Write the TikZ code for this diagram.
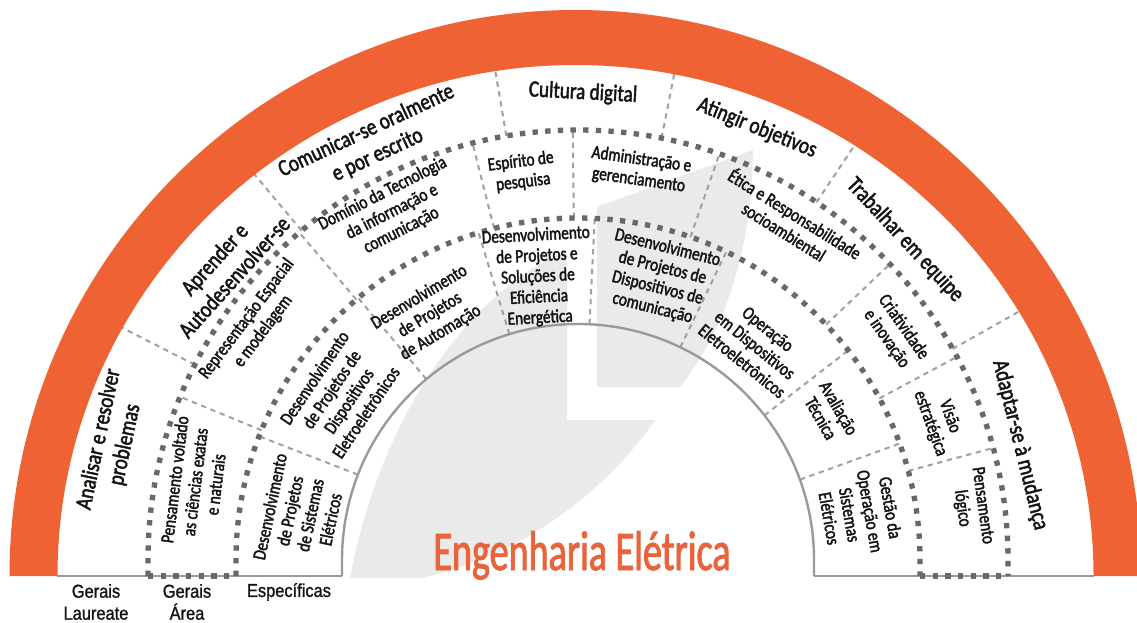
\documentclass[tikz,border=0pt]{standalone}
\usepackage{fontspec}
\setmainfont{Carlito}[FakeStretch=0.82,FakeBold=2]
\newfontfamily\labfont{Liberation Sans}[FakeStretch=0.88,FakeBold=1.2]
\newfontfamily\titfont{Carlito}[FakeStretch=0.68,FakeBold=1.6]
\definecolor{orng}{HTML}{EE6234}
\definecolor{titc}{HTML}{E8643C}
\definecolor{dgray}{HTML}{A0A0A0}
\definecolor{tdot}{HTML}{686868}
\definecolor{agray}{HTML}{9A9A9A}
\definecolor{logoc}{HTML}{EAEAEA}
\definecolor{txtc}{HTML}{141414}
\newcommand\rseg[3]{\draw[thindash] ([shift={(#1:#2)}]C) -- ([shift={(#1:#3)}]C);}
\begin{document}
\begin{tikzpicture}[x=0.75pt,y=0.75pt,
 thindash/.style={draw=dgray, line width=1.5pt, dash pattern=on 4pt off 3.5pt},
 thickdot/.style={draw=tdot, line width=4pt, dash pattern=on 4pt off 5.5pt},
 arcline/.style={draw=agray, line width=1.8pt},
 baseln/.style={draw=agray, line width=1.6pt},
 txt/.style={text=txtc, align=center, inner sep=0pt},
 outt/.style={txt, font=\fontsize{17.5}{20}\selectfont},
 midt/.style={txt, font=\fontsize{14}{15.5}\selectfont},
 labt/.style={txt, font=\labfont\fontsize{14}{16.5}\selectfont},
]
\useasboundingbox (0,0) rectangle (1137,-623);
\clip (0,0) rectangle (1137,-623);
\fill[white] (0,0) rectangle (1137,-623);
\coordinate (C) at (578,-560);
\coordinate (O) at (575.5,-576);

% background logo
\fill[logoc] (567,-250) -- (567,-420) -- (655,-420)
  .. controls (600,-500) and (510,-560) .. (420,-578) -- (350,-578)
  .. controls (380,-420) and (465,-295) .. (567,-250) -- cycle;
\fill[logoc] (597,-207) -- (753,-150)
  .. controls (752,-250) and (725,-330) .. (680,-387) -- (597,-387) -- cycle;

% radial dividers, outer ring
\rseg{153}{430}{535}
\rseg{130}{430}{535}
\rseg{99.6}{430}{535}
\rseg{78.8}{430}{535}
\rseg{56.3}{430}{535}
\rseg{29.4}{430}{535}
% middle ring
\rseg{157.7}{342}{430}
\rseg{130.4}{342}{430}
\rseg{104.2}{342}{430}
\rseg{90.7}{342}{430}
\rseg{70.8}{342}{430}
\rseg{43.5}{342}{430}
\rseg{28.2}{342}{430}
\rseg{15.1}{342}{430}
% inner ring
\rseg{158.8}{236}{342}
\rseg{130}{236}{342}
\rseg{106.9}{236}{342}
\rseg{87.2}{236}{342}
\rseg{64.3}{236}{342}
\rseg{37.8}{236}{342}
\rseg{19.9}{236}{342}

% baseline and inner arc
\draw[baseln] (57,-576) -- (342,-576);
\draw[baseln] (814,-576) -- (1094,-576);
\draw[arcline] (342,-576) -- (342,-560) arc[start angle=180,end angle=0,radius=236] -- (814,-576);

% thick dotted ring boundaries
\draw[thickdot] (148,-576) -- (148,-560) arc[start angle=180,end angle=0,radius=430] -- (1008,-576);
\draw[thickdot] (236,-576) -- (236,-560) arc[start angle=180,end angle=0,radius=342] -- (920,-576);
\draw[thickdot] (148,-576) -- (236,-576);
\draw[thickdot] (920,-576) -- (1008,-576);

% orange ring
\fill[orng] ([shift={(180:566)}]O) arc[start angle=180,end angle=0,radius=566]
  -- ([shift={(0:518 and 511)}]O) arc[start angle=0,end angle=180,x radius=518,y radius=511] -- cycle;

% outer ring texts
\node[outt, rotate=78] (o1) at (112,-442) {Analisar e resolver\\problemas};
\node[outt, rotate=48] (o2) at (224,-268) {Aprender e\\Autodesenvolver-se};
\node[outt, rotate=25] (o3) at (372,-143) {Comunicar-se oralmente\\e por escrito};
\node[outt, rotate=-3] (o4) at (583,-93) {Cultura digital};
\node[outt, rotate=-22] (o5) at (757,-128) {Atingir objetivos};
\node[outt, rotate=-47] (o6) at (905,-240) {Trabalhar em equipe};
\node[outt, rotate=-76] (o7) at (1020,-445) {Adaptar-se à mudança};

% middle ring texts
\node[midt, rotate=83] (m1) at (195,-482) {Pensamento voltado\\as ciências exatas\\e naturais};
\node[midt, rotate=53] (m2) at (255,-325) {Representação Espacial\\e modelagem};
\node[midt, rotate=27] (m3) at (392,-212) {Domínio da Tecnologia\\da informação e\\comunicação};
\node[midt, rotate=7] (m4) at (522,-172) {Espírito de\\pesquisa};
\node[midt, rotate=-8] (m5) at (640,-170) {Administração e\\gerenciamento};
\node[midt, rotate=-32] (m6) at (790,-222) {Ética e Responsabilidade\\socioambiental};
\node[midt, rotate=-55] (m7) at (895,-333) {Criatividade\\e inovação};
\node[midt, rotate=-70] (m8) at (940,-420) {Visão\\estratégica};
\node[midt, rotate=-82] (m9) at (972,-507) {Pensamento\\lógico};

% inner ring texts
\node[midt, rotate=78] (i1) at (300,-513) {Desenvolvimento\\de Projetos\\de Sistemas\\Elétricos};
\node[midt, rotate=56] (i2) at (340,-395) {Desenvolvimento\\de Projetos de\\Dispositivos\\Eletroeletrônicos};
\node[midt, rotate=31] (i3) at (430,-315) {Desenvolvimento\\de Projetos\\de Automação};
\node[midt, rotate=3] (i4) at (538,-277) {Desenvolvimento\\de Projetos e\\Soluções de\\Eficiência\\Energética};
\node[midt, rotate=-14] (i5) at (660,-278) {Desenvolvimento\\de Projetos de\\Dispositivos de\\comunicação};
\node[midt, rotate=-39] (i6) at (755,-345) {Operação\\em Dispositivos\\Eletroeletrônicos};
\node[midt, rotate=-60] (i7) at (830,-413) {Avaliação\\Técnica};
\node[midt, rotate=-80] (i8) at (860,-513) {Gestão da\\Operação em\\Sistemas\\Elétricos};

% title
\node[text=titc, inner sep=0pt, anchor=base, font=\titfont\fontsize{42}{46}\selectfont] (title) at (582,-570) {Engenharia Elétrica};

% bottom labels
\node[labt] (l1) at (96,-602) {Gerais\\Laureate};
\node[labt] (l2) at (187,-602) {Gerais\\Área};
\node[labt] (l3) at (289,-592) {Específicas};
\end{tikzpicture}
\end{document}
